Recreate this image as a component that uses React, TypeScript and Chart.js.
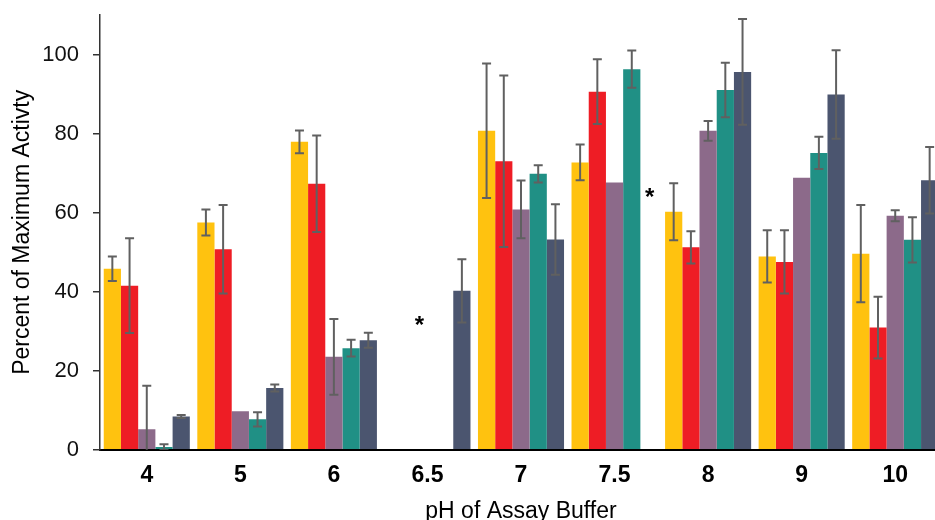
import React, { useEffect, useRef } from "react";
import { Chart, registerables } from "chart.js";

Chart.register(...registerables);

const categories = ["4", "5", "6", "6.5", "7", "7.5", "8", "9", "10"];

const yellowValues = [45.8, 57.5, 77.9, null, 80.7, 72.7, 60.2, 48.9, 49.6];
const yellowErrors = [3.1, 3.3, 2.9, null, 17.0, 4.5, 7.2, 6.6, 12.3];

const redValues = [41.5, 50.7, 67.3, null, 73.0, 90.6, 51.2, 47.5, 30.9];
const redErrors = [12.0, 11.2, 12.2, null, 21.7, 8.2, 4.1, 8.0, 7.8];

const purpleValues = [5.2, 9.7, 23.5, null, 60.8, 67.6, 80.7, 68.8, 59.2];
const purpleErrors = [11.0, null, 9.6, null, 7.3, null, 2.5, null, 1.4];

const tealValues = [0.7, 7.7, 25.7, null, 69.8, 96.3, 91.0, 75.1, 53.1];
const tealErrors = [0.7, 1.8, 2.1, null, 2.2, 4.7, 6.9, 4.1, 5.7];

const slateValues = [8.4, 15.6, 27.7, 40.2, 53.2, null, 95.6, 89.9, 68.2];
const slateErrors = [0.4, 0.9, 1.9, 8.0, 8.9, null, 13.4, 11.2, 8.4];

// asterisk annotations: fractional category index and value
const asteriskPositions = [2.915, 5.374];
const asteriskValues = [32.2, 64.7];

const yTickValues = [0, 20, 40, 60, 80, 100];

const colors = ["#FFC20F", "#EE1D25", "#8C6A8A", "#209085", "#4B556F"];

const FONT = "'Liberation Sans', Arial, Helvetica, sans-serif";

const errorBarPlugin = {
  id: "errorBars",
  afterDatasetsDraw(chart: any) {
    const { ctx, chartArea } = chart;
    const yScale = chart.scales.y;
    ctx.save();
    ctx.beginPath();
    ctx.rect(chartArea.left, chartArea.top, chartArea.right - chartArea.left, chartArea.bottom - chartArea.top);
    ctx.clip();
    ctx.strokeStyle = "#606060";
    ctx.lineWidth = 2;
    chart.data.datasets.forEach((ds: any, i: number) => {
      const meta = chart.getDatasetMeta(i);
      (ds.errors || []).forEach((e: number | null, j: number) => {
        const v = ds.data[j];
        if (v == null || e == null) return;
        const bar = meta.data[j];
        if (!bar) return;
        const x = bar.x;
        const yt = yScale.getPixelForValue(v + e);
        const yb = yScale.getPixelForValue(v - e);
        const cap = 4.5;
        ctx.beginPath();
        ctx.moveTo(x, yt);
        ctx.lineTo(x, yb);
        ctx.moveTo(x - cap, yt);
        ctx.lineTo(x + cap, yt);
        ctx.moveTo(x - cap, yb);
        ctx.lineTo(x + cap, yb);
        ctx.stroke();
      });
    });
    ctx.restore();
  },
};

const asteriskPlugin = {
  id: "asterisks",
  afterDatasetsDraw(chart: any) {
    const { ctx } = chart;
    const xScale = chart.scales.x;
    const yScale = chart.scales.y;
    ctx.save();
    ctx.fillStyle = "#000";
    ctx.font = `bold 24px ${FONT}`;
    ctx.textAlign = "center";
    ctx.textBaseline = "alphabetic";
    asteriskPositions.forEach((p, i) => {
      const x = xScale.getPixelForValue(p);
      const y = yScale.getPixelForValue(asteriskValues[i]);
      ctx.fillText("*", x, y + 11);
    });
    ctx.restore();
  },
};

export default function App() {
  const canvasRef = useRef<HTMLCanvasElement | null>(null);

  useEffect(() => {
    if (!canvasRef.current) return;
    const seriesValues = [yellowValues, redValues, purpleValues, tealValues, slateValues];
    const seriesErrors = [yellowErrors, redErrors, purpleErrors, tealErrors, slateErrors];
    const chart = new Chart(canvasRef.current, {
      type: "bar",
      data: {
        labels: categories,
        datasets: seriesValues.map((vals, i) => ({
          label: `Series ${i + 1}`,
          data: vals,
          errors: seriesErrors[i],
          backgroundColor: colors[i],
          borderWidth: 0,
          barPercentage: 1,
          categoryPercentage: 0.92,
        })) as any,
      },
      options: {
        animation: false,
        responsive: false,
        devicePixelRatio: 1,
        layout: { padding: { top: 15, right: 0, bottom: 0, left: 0 } },
        plugins: {
          legend: { display: false },
          tooltip: { enabled: false },
        },
        scales: {
          x: {
            grid: { display: true, drawOnChartArea: false, drawTicks: false },
            border: { display: true, color: "#000", width: 2 },
            ticks: {
              color: "#000",
              font: { family: FONT, size: 23, weight: "bold" },
              padding: 12,
              maxRotation: 0,
            },
            title: {
              display: true,
              text: "pH of Assay Buffer",
              color: "#000",
              font: { family: FONT, size: 23, lineHeight: 1 },
              padding: { top: 0, bottom: -3 },
            },
            afterFit(scale: any) {
              scale.height = 70.3;
            },
          },
          y: {
            min: 0,
            max: 110,
            grid: { display: true, drawOnChartArea: false, drawTicks: true, tickLength: 7, color: "#333", lineWidth: 1.5 },
            border: { display: true, color: "#333", width: 1.5 },
            ticks: {
              color: "#111",
              font: { family: FONT, size: 22 },
              padding: 14,
              stepSize: 20,
            },
            afterBuildTicks(scale: any) {
              scale.ticks = yTickValues.map((v) => ({ value: v }));
            },
            title: {
              display: true,
              text: "Percent of Maximum Activty",
              color: "#000",
              font: { family: FONT, size: 23 },
              padding: { top: 9, bottom: 0 },
            },
            afterFit(scale: any) {
              scale.width = 100;
              scale.paddingTop = 0;
              scale.paddingBottom = 0;
            },
          },
        },
      } as any,
      plugins: [errorBarPlugin, asteriskPlugin],
    });
    return () => chart.destroy();
  }, []);

  return (
    <div
      style={{
        position: "fixed",
        left: 0,
        top: 0,
        width: 935,
        height: 520,
        overflow: "hidden",
        background: "#fff",
      }}
    >
      <canvas ref={canvasRef} width={942} height={520} style={{ display: "block" }} />
    </div>
  );
}
